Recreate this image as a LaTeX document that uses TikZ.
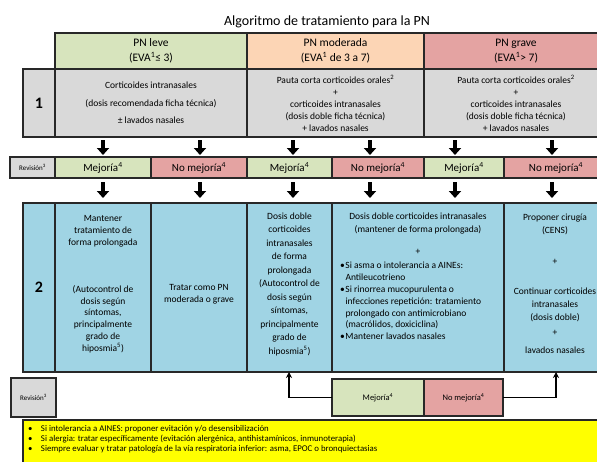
\documentclass[tikz,border=0pt]{standalone}
\usepackage{fontspec}
\setmainfont{Carlito}
\usetikzlibrary{arrows.meta}
\definecolor{hgreen}{RGB}{215,228,189}
\definecolor{horange}{RGB}{252,213,181}
\definecolor{hred}{RGB}{228,163,162}
\definecolor{cgray}{RGB}{217,217,217}
\definecolor{cblue}{RGB}{160,212,228}
\definecolor{cyel}{RGB}{255,255,0}
\definecolor{edge}{RGB}{40,40,40}
\begin{document}
\begin{tikzpicture}[x=1pt,y=-1pt,
 cell/.style={draw=edge, line width=1.1pt, inner sep=0pt, outer sep=0pt, anchor=north west, align=center},
 txt/.style={inner sep=0pt, outer sep=0pt, align=center},
 hfont/.style={font=\fontsize{11.5}{15}\selectfont},
 rfont/.style={font=\fontsize{9.5}{11.8}\selectfont},
 vfont/.style={font=\fontsize{11}{13}\selectfont},
 numfont/.style={font=\fontsize{16}{18}\selectfont\bfseries},
 bigarrow/.style={line width=4pt, -{Triangle[width=12pt,length=7pt]}},
 backarrow/.style={line width=1.3pt, -{Stealth[width=6pt,length=6pt]}},
]
\useasboundingbox (0,0) rectangle (597,461);
\fill[white] (0,0) rectangle (597,461);

% title
\node[txt, font=\fontsize{14}{16}\selectfont] (title) at (327,22) {Algoritmo de tratamiento para la PN};

% header row
\node[cell, fill=hgreen, minimum width=192pt, minimum height=36pt, hfont] (hg) at (55,33) {PN leve\\(EVA\textsuperscript{1}≤ 3)};
\node[cell, fill=horange, minimum width=177pt, minimum height=36pt, hfont] (ho) at (247,33) {PN moderada\\(EVA\textsuperscript{1} de 3 a 7)};
\node[cell, fill=hred, minimum width=184pt, minimum height=36pt, hfont] (hr) at (424,33) {PN grave\\(EVA\textsuperscript{1}> 7)};

% row 1
\node[cell, fill=cgray, minimum width=32pt, minimum height=68pt, numfont] (l1) at (23,69) {1};
\node[cell, fill=cgray, minimum width=192pt, minimum height=68pt, font=\fontsize{9.5}{17.5}\selectfont] (g1) at (55,69) {Corticoides intranasales\\(dosis recomendada ficha técnica)\\± lavados nasales};
\node[cell, fill=cgray, minimum width=177pt, minimum height=68pt, font=\fontsize{9.5}{12}\selectfont] (g2) at (247,69) {Pauta corta corticoides orales\textsuperscript{2}\\+\\corticoides intranasales\\(dosis doble ficha técnica)\\+ lavados nasales};
\node[cell, fill=cgray, minimum width=184pt, minimum height=68pt, font=\fontsize{9.5}{12}\selectfont] (g3) at (424,69) {Pauta corta corticoides orales\textsuperscript{2}\\+\\corticoides intranasales\\(dosis doble ficha técnica)\\+ lavados nasales};

% revision row
\node[cell, fill=cgray, minimum width=45pt, minimum height=21pt, font=\fontsize{7}{8}\selectfont] (rv) at (10,157) {Revisión\textsuperscript{3}};
\node[cell, fill=hgreen, minimum width=96pt, minimum height=21pt, vfont] (m1) at (55,157) {Mejoría\textsuperscript{4}};
\node[cell, fill=hred, minimum width=96pt, minimum height=21pt, vfont] (n1) at (151,157) {No mejoría\textsuperscript{4}};
\node[cell, fill=hgreen, minimum width=85pt, minimum height=21pt, vfont] (m2) at (247,157) {Mejoría\textsuperscript{4}};
\node[cell, fill=hred, minimum width=92pt, minimum height=21pt, vfont] (n2) at (332,157) {No mejoría\textsuperscript{4}};
\node[cell, fill=hgreen, minimum width=80pt, minimum height=21pt, vfont] (m3) at (424,157) {Mejoría\textsuperscript{4}};
\node[cell, fill=hred, minimum width=104pt, minimum height=21pt, vfont] (n3) at (504,157) {No mejoría\textsuperscript{4}};

% row 2
\node[cell, fill=cblue, minimum width=32pt, minimum height=169pt, numfont] (l2) at (23,203) {2};
\node[cell, fill=cblue, minimum width=96pt, minimum height=169pt] (b1) at (55,203) {};
\node[cell, fill=cblue, minimum width=96pt, minimum height=169pt] (b2) at (151,203) {};
\node[cell, fill=cblue, minimum width=85pt, minimum height=169pt] (b3) at (247,203) {};
\node[cell, fill=cblue, minimum width=172pt, minimum height=169pt] (b4) at (332,203) {};
\node[cell, fill=cblue, minimum width=104pt, minimum height=169pt] (b5) at (504,203) {};

\node[txt, rfont] (t1a) at (103,231) {Mantener\\tratamiento de\\forma prolongada};
\node[txt, rfont] (t1b) at (103,319) {(Autocontrol de\\dosis según\\síntomas,\\principalmente\\grado de\\hiposmia\textsuperscript{5})};
\node[txt, rfont] (t2) at (199,294) {Tratar como PN\\moderada o grave};
\node[txt, font=\fontsize{9.5}{13.5}\selectfont] (t3) at (289.5,284) {Dosis doble\\corticoides\\intranasales\\de forma\\prolongada\\(Autocontrol de\\dosis según\\síntomas,\\principalmente\\grado de\\hiposmia\textsuperscript{5})};
\node[txt, font=\fontsize{9.5}{13}\selectfont] (t4a) at (418,224) {Dosis doble corticoides intranasales\\(mantener de forma prolongada)};
\node[txt, rfont] (t4b) at (418,252) {+};
\node[txt, rfont, align=left, anchor=west] (t4c) at (340,301) {\makebox[5.5pt][l]{•}Si asma o intolerancia a AINEs:\\\hspace*{5.5pt}Antileucotrieno\\\makebox[5.5pt][l]{•}Si rinorrea mucopurulenta o\\\hspace*{5.5pt}infecciones repetición: tratamiento\\\hspace*{5.5pt}prolongado con antimicrobiano\\\hspace*{5.5pt}(macrólidos, doxiciclina)\\\makebox[5.5pt][l]{•}Mantener lavados nasales};
\node[txt, font=\fontsize{9.5}{13}\selectfont] (t5a) at (555,224) {Proponer cirugía\\(CENS)};
\node[txt, rfont] (t5b) at (555,262) {+};
\node[txt, font=\fontsize{9.5}{13}\selectfont] (t5c) at (555,305) {Continuar corticoides\\intranasales\\(dosis doble)};
\node[txt, rfont] (t5d) at (555,333) {+};
\node[txt, rfont] (t5e) at (555,350) {lavados nasales};

% arrows row 1 -> revision -> row 2
\coordinate (x1) at (103,0);
\coordinate (x2) at (200,0);
\coordinate (x3) at (293,0);
\coordinate (x4) at (370,0);
\coordinate (x5) at (455,0);
\coordinate (x6) at (552,0);
\draw[bigarrow, shorten <=3pt, shorten >=2pt] (g1.south -| x1) -- (m1.north -| x1);
\draw[bigarrow, shorten <=3pt, shorten >=2pt] (g1.south -| x2) -- (n1.north -| x2);
\draw[bigarrow, shorten <=3pt, shorten >=2pt] (g2.south -| x3) -- (m2.north -| x3);
\draw[bigarrow, shorten <=3pt, shorten >=2pt] (g2.south -| x4) -- (n2.north -| x4);
\draw[bigarrow, shorten <=3pt, shorten >=2pt] (g3.south -| x5) -- (m3.north -| x5);
\draw[bigarrow, shorten <=3pt, shorten >=2pt] (g3.south -| x6) -- (n3.north -| x6);
\draw[bigarrow, shorten <=4pt, shorten >=5pt] (m1.south -| x1) -- (b1.north -| x1);
\draw[bigarrow, shorten <=4pt, shorten >=5pt] (n1.south -| x2) -- (b2.north -| x2);
\draw[bigarrow, shorten <=4pt, shorten >=5pt] (m2.south -| x3) -- (b3.north -| x3);
\draw[bigarrow, shorten <=4pt, shorten >=5pt] (n2.south -| x4) -- (b4.north -| x4);
\draw[bigarrow, shorten <=4pt, shorten >=5pt] (m3.south -| x5) -- (b4.north -| x5);
\draw[bigarrow, shorten <=4pt, shorten >=5pt] (n3.south -| x6) -- (b5.north -| x6);

% bottom revision
\node[cell, fill=cgray, minimum width=45pt, minimum height=39pt, font=\fontsize{7}{8}\selectfont] (rv2) at (11,378) {Revisión\textsuperscript{3}};
\node[cell, fill=hgreen, minimum width=92pt, minimum height=37pt, font=\fontsize{8.5}{10}\selectfont] (bm) at (332,379) {Mejoría\textsuperscript{4}};
\node[cell, fill=hred, minimum width=79pt, minimum height=37pt, font=\fontsize{8.5}{10}\selectfont] (bn) at (424,379) {No mejoría\textsuperscript{4}};
\coordinate (xa) at (289,0);
\coordinate (xb) at (556,0);
\draw[backarrow] (bm.west) -| (b3.south -| xa);
\draw[backarrow] (bn.east) -| (b5.south -| xb);

% yellow notes
\node[cell, fill=cyel, minimum width=590pt, minimum height=50pt] (yel) at (23,420) {};
\node[txt, align=left, anchor=north west, font=\fontsize{8.8}{10.4}\selectfont] (notes) at (28,425) {\makebox[13pt][l]{•}Si intolerancia a AINES: proponer evitación y/o desensibilización\\\makebox[13pt][l]{•}Si alergia: tratar específicamente (evitación alergénica, antihistamínicos, inmunoterapia)\\\makebox[13pt][l]{•}Siempre evaluar y tratar patología de la vía respiratoria inferior: asma, EPOC o bronquiectasias};
\end{tikzpicture}
\end{document}
